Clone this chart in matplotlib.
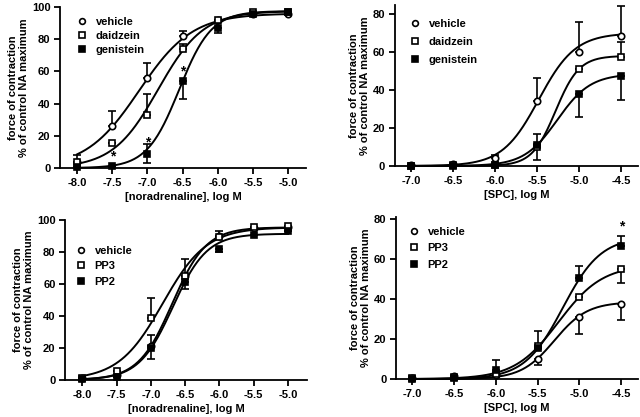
import numpy as np
import matplotlib
matplotlib.use('Agg')
import matplotlib.pyplot as plt

plt.rcParams['font.family'] = ['Liberation Sans', 'DejaVu Sans']
plt.rcParams['font.weight'] = 'bold'

# log concentrations
na_x = [-8.0, -7.5, -7.0, -6.5, -6.0, -5.5, -5.0]
spc_x = [-7.0, -6.5, -6.0, -5.5, -5.0, -4.5]

# panel A: noradrenaline, vehicle / daidzein / genistein
a_vehicle = [4, 26, 56, 82, 92, 96, 96]
a_vehicle_hi = [4, 9.5, 9.5, 3, 0, 0, 0]
a_daidzein = [4, 15.5, 33, 74, 92, 97, 97]
a_daidzein_hi = [0, 0, 13, 3, 0, 0, 0]
a_genistein = [0.5, 1.5, 9, 54, 87, 96, 97]
a_genistein_lo = [0, 0, 6, 11, 3, 0, 0]
a_genistein_hi = [0, 0, 6, 0, 0, 0, 0]
a_stars = [(-7.5, 7), (-7.0, 16), (-6.5, 60)]

# panel B: SPC, vehicle / daidzein / genistein
b_vehicle = [0.5, 1, 4, 34, 60, 68.5]
b_vehicle_hi = [0, 0, 2, 12.5, 16, 16]
b_daidzein = [0, 0.3, 0.5, 10, 51, 57.5]
b_daidzein_lo = [0, 0, 0, 7, 0, 0]
b_daidzein_hi = [0, 0, 0, 0, 0, 8]
b_genistein = [0, 0, 0.5, 11, 38, 47.5]
b_genistein_lo = [0, 0, 0, 0, 12, 12.5]
b_genistein_hi = [0, 0, 0, 6, 0, 0]

# panel C: noradrenaline, vehicle / PP3 / PP2
c_vehicle = [1, 3, 21, 65, 90, 95, 96]
c_vehicle_hi = [0, 0, 7, 11, 3, 0, 0]
c_pp3 = [1, 5.5, 38.5, 65, 89.5, 95.5, 96.5]
c_pp3_hi = [0, 0, 12.5, 0, 0, 0, 0]
c_pp2 = [0.5, 2, 20, 61, 82, 91, 93]
c_pp2_lo = [0, 0, 7, 4, 2, 0, 0]

# panel D: SPC, vehicle / PP3 / PP2
d_vehicle = [0.3, 1.5, 2, 10, 31, 37.5]
d_vehicle_lo = [0, 0, 0, 3, 8.5, 8]
d_pp3 = [0.3, 1, 2.5, 16.5, 41, 55]
d_pp3_lo = [0, 0, 0, 0, 0, 7]
d_pp2 = [0, 0.5, 4.5, 15.5, 50.5, 66.5]
d_pp2_hi = [0, 0, 5, 8.5, 6, 5]
d_stars = [(-4.5, 76)]

# fitted sigmoid parameters: (top, logEC50, hill)
a_fits = [(96, -7.12, 1.15), (97.5, -6.85, 1.35), (97.5, -6.55, 1.9)]
b_fits = [(70, -5.48, 2.0), (58, -5.28, 3.1), (48.5, -5.26, 2.2)]
c_fits = [(95.5, -6.69, 1.75), (95.5, -6.83, 1.35), (91.5, -6.68, 1.75)]
d_fits = [(38.5, -5.30, 2.2), (57, -5.25, 1.65), (71, -5.20, 1.9)]

styles = [dict(marker='o', mfc='white'),
          dict(marker='s', mfc='white'),
          dict(marker='s', mfc='black')]

ylab = 'force of contraction\n% of control NA maximum'


def sigmoid(x, top, ec50, hill):
    return top / (1 + 10 ** ((ec50 - x) * hill))


def panel(ax, x, series, fits, labels, xlim, ylim, yticks, xlabel,
          leg_anchor, leg_space, stars=()):
    xs = np.linspace(x[0], x[-1], 200)
    for (top, ec50, hill) in fits:
        ax.plot(xs, sigmoid(xs, top, ec50, hill), color='black', lw=1.4,
                zorder=2, clip_on=False)
    for (y, lo, hi), st, lab in zip(series, styles, labels):
        lo = np.zeros(len(y)) if lo is None else np.array(lo)
        hi = np.zeros(len(y)) if hi is None else np.array(hi)
        ax.errorbar(x, y, yerr=[lo, hi], fmt='none', ecolor='black',
                    elinewidth=1.2, capsize=3.2, capthick=1.2, zorder=3,
                    clip_on=False)
        ax.plot(x, y, ls='none', marker=st['marker'], mfc=st['mfc'],
                mec='black', mew=1.2, ms=4.6, zorder=4, clip_on=False,
                label=lab)
    for sx, sy in stars:
        ax.text(sx, sy, '*', ha='center', va='center', fontsize=10,
                fontweight='bold')
    ax.set_xlim(*xlim)
    ax.set_ylim(*ylim)
    ax.set_yticks(yticks)
    ax.set_xticks(x)
    ax.set_xticklabels(['%.1f' % v for v in x])
    ax.set_xlabel(xlabel, fontsize=8, fontweight='bold', labelpad=3)
    ax.set_ylabel(ylab, fontsize=8, fontweight='bold', labelpad=2,
                  linespacing=1.1)
    for s in ['top', 'right']:
        ax.spines[s].set_visible(False)
    for s in ['left', 'bottom']:
        ax.spines[s].set_linewidth(1.3)
    ax.tick_params(direction='out', length=4, width=1.3, labelsize=8,
                   pad=3)
    for t in ax.get_xticklabels() + ax.get_yticklabels():
        t.set_fontweight('bold')
    ax.legend(loc='upper left', bbox_to_anchor=leg_anchor, frameon=False,
              handlelength=0.8, handletextpad=0.8, labelspacing=leg_space,
              borderaxespad=0, borderpad=0, markerscale=0.9,
              prop={'weight': 'bold', 'size': 8})


fig = plt.figure(figsize=(6.4, 4.17), dpi=100)

ax1 = fig.add_axes([0.094, 0.597, 0.384, 0.386])
panel(ax1, na_x,
      [(a_vehicle, None, a_vehicle_hi),
       (a_daidzein, None, a_daidzein_hi),
       (a_genistein, a_genistein_lo, a_genistein_hi)],
      a_fits, ['vehicle', 'daidzein', 'genistein'],
      (-8.24, -4.75), (0, 100), [0, 20, 40, 60, 80, 100],
      '[noradrenaline], log M', (0.072, 0.94), 0.35, a_stars)

ax2 = fig.add_axes([0.617, 0.602, 0.380, 0.387])
panel(ax2, spc_x,
      [(b_vehicle, None, b_vehicle_hi),
       (b_daidzein, b_daidzein_lo, b_daidzein_hi),
       (b_genistein, b_genistein_lo, b_genistein_hi)],
      b_fits, ['vehicle', 'daidzein', 'genistein'],
      (-7.19, -4.3), (0, 85), [0, 20, 40, 60, 80],
      '[SPC], log M', (0.065, 0.913), 0.75)

ax3 = fig.add_axes([0.102, 0.089, 0.378, 0.383])
panel(ax3, na_x,
      [(c_vehicle, None, c_vehicle_hi),
       (c_pp3, None, c_pp3_hi),
       (c_pp2, c_pp2_lo, None)],
      c_fits, ['vehicle', 'PP3', 'PP2'],
      (-8.25, -4.72), (0, 100), [0, 20, 40, 60, 80, 100],
      '[noradrenaline], log M', (0.048, 0.84), 0.5)

ax4 = fig.add_axes([0.619, 0.091, 0.378, 0.389])
panel(ax4, spc_x,
      [(d_vehicle, d_vehicle_lo, None),
       (d_pp3, d_pp3_lo, None),
       (d_pp2, None, d_pp2_hi)],
      d_fits, ['vehicle', 'PP3', 'PP2'],
      (-7.19, -4.3), (0, 81), [0, 20, 40, 60, 80],
      '[SPC], log M', (0.056, 0.94), 0.6, d_stars)

fig.savefig('out.png', dpi=100)
